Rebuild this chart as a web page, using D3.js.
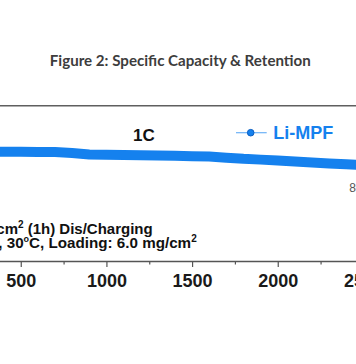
<!DOCTYPE html>
<html>
<head>
<meta charset="utf-8">
<script src="https://cdn.jsdelivr.net/npm/d3@7"></script>
<style>
  html, body { margin: 0; padding: 0; background: #fff; }
  svg { display: block; }
</style>
</head>
<body>
<svg id="chart" width="356" height="364"></svg>
<script>
// ---- data ----
const cycles   = [300, 400, 500, 600, 700, 800, 900, 1000, 1100, 1200, 1300, 1400, 1500,
                  1600, 1700, 1800, 1900, 2000, 2100, 2200, 2300, 2400, 2500];
const capacity = [141.3, 141.0, 140.9, 140.8, 140.5, 139.3, 137.5, 137.2, 136.8, 136.3, 136.0, 135.7, 135.3,
                  134.8, 133.3, 131.8, 130.8, 129.6, 128.4, 127.2, 125.8, 124.7, 124.0];
const xMajorTicks = [0, 500, 1000, 1500, 2000, 2500];
const xMinorTicks = [250, 750, 1250, 1750, 2250];
const titleText  = "Figure 2: Specific Capacity & Retention";
const seriesName = "Li-MPF";
const rateLabel  = "1C";
const retentionLabel = "86%";

const svg = d3.select("#chart");
const W = 356, H = 364;
svg.append("rect").attr("width", W).attr("height", H).attr("fill", "#fff");

const x = d3.scaleLinear().domain([0, 2500]).range([-64.9, 363.4]);
const y = d3.scaleLinear().domain([0, 200]).range([261, 106]);

const sans = "'Liberation Sans', Arial, Helvetica, sans-serif";

// title
const title = svg.append("text")
  .attr("x", 180.3).attr("y", 65.7)
  .attr("text-anchor", "middle")
  .attr("font-family", "Lato, 'Open Sans', sans-serif")
  .attr("font-weight", "bold")
  .attr("font-size", 16)
  .attr("fill", "#3d3d3d")
  .text(titleText);
if (title.node().getComputedTextLength() > 261) {
  title.attr("textLength", 261).attr("lengthAdjust", "spacingAndGlyphs");
}

// top frame line
svg.append("line")
  .attr("x1", 0).attr("x2", W).attr("y1", 105.7).attr("y2", 105.7)
  .attr("stroke", "#5f5f5f").attr("stroke-width", 1.5);

// data band
const line = d3.line().x((d, i) => x(cycles[i])).y(d => y(d));
svg.append("path")
  .datum(capacity)
  .attr("d", line)
  .attr("fill", "none")
  .attr("stroke", "#1581ee")
  .attr("stroke-width", 10)
  .attr("stroke-linejoin", "round")
  .attr("stroke-linecap", "round");

// 1C label
svg.append("text")
  .attr("x", 133).attr("y", 140.5)
  .attr("font-family", sans).attr("font-weight", "bold").attr("font-size", 17)
  .attr("fill", "#111").text(rateLabel);

// legend
const lg = svg.append("g");
lg.append("line").attr("x1", 236).attr("x2", 266.7).attr("y1", 132.7).attr("y2", 132.7)
  .attr("stroke", "#6db2f7").attr("stroke-width", 1.2);
lg.append("circle").attr("cx", 250.7).attr("cy", 132.7).attr("r", 3.3)
  .attr("fill", "#1581ee").attr("stroke", "#0b5fc2").attr("stroke-width", 1);
lg.append("text").attr("x", 273.3).attr("y", 138.5)
  .attr("font-family", sans).attr("font-weight", "bold").attr("font-size", 18)
  .attr("fill", "#1581ee").text(seriesName);

// retention annotation (cut at right edge)
svg.append("text").attr("x", 349.2).attr("y", 192.3)
  .attr("font-family", sans).attr("font-size", 12)
  .attr("fill", "#555").text(retentionLabel);

// condition notes
const n1 = svg.append("text").attr("x", 152.7).attr("y", 234)
  .attr("text-anchor", "end")
  .attr("font-family", sans).attr("font-weight", "bold").attr("font-size", 15).attr("fill", "#111");
n1.append("tspan").text("1C = 1.2 mA/cm");
n1.append("tspan").attr("font-size", 10).attr("dy", -6).text("2");
n1.append("tspan").attr("dy", 6).text(" (1h) Dis/Charging");

const n2 = svg.append("text").attr("x", 196.7).attr("y", 248.3)
  .attr("text-anchor", "end")
  .attr("font-family", sans).attr("font-weight", "bold").attr("font-size", 15.2).attr("fill", "#111");
n2.append("tspan").text("2.8-4.3 V, 30");
n2.append("tspan").attr("font-size", 9).attr("dy", -6).text("o");
n2.append("tspan").attr("dy", 6).text("C, Loading: 6.0 mg/cm");
n2.append("tspan").attr("font-size", 10).attr("dy", -6).text("2");

// x axis: minor ticks
const minorAxis = d3.axisBottom(x).tickValues(xMinorTicks).tickSize(3.5).tickSizeOuter(0).tickFormat("");
const gMinor = svg.append("g").attr("transform", "translate(0,261)").call(minorAxis);
gMinor.select(".domain").remove();
gMinor.selectAll(".tick line").attr("stroke", "#555").attr("stroke-width", 1.2);

// x axis: major ticks + labels
const majorAxis = d3.axisBottom(x).tickValues(xMajorTicks).tickSize(6).tickSizeOuter(0).tickPadding(7)
  .tickFormat(d3.format("d"));
const gMajor = svg.append("g").attr("transform", "translate(0,261)").call(majorAxis);
gMajor.select(".domain").attr("stroke", "#555").attr("stroke-width", 1.3);
gMajor.selectAll(".tick line").attr("stroke", "#555").attr("stroke-width", 1.2);
gMajor.selectAll(".tick text")
  .attr("font-family", sans).attr("font-weight", "bold").attr("font-size", 18).attr("fill", "#1a1a1a");
</script>
</body>
</html>
